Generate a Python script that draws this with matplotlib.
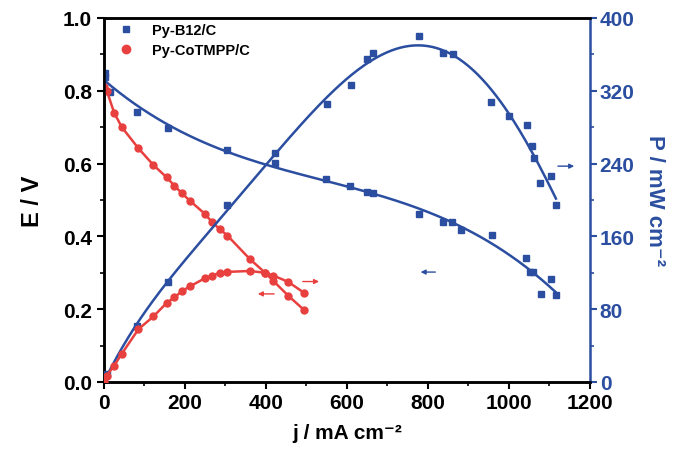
import numpy as np
import matplotlib
matplotlib.use("Agg")
import matplotlib.pyplot as plt
from matplotlib.ticker import MultipleLocator

plt.rcParams['font.family'] = ['Liberation Sans', 'DejaVu Sans']
plt.rcParams['font.weight'] = 'bold'

BLUE = '#2B4EA0'
RED = '#E8403E'

# Py-B12/C
b12_j_E = [2, 3, 15, 81, 159, 305, 422, 548, 607, 649, 665, 777, 836, 860, 881,
           957, 1042, 1052, 1060, 1078, 1104, 1115]
b12_E = [0.85, 0.838, 0.796, 0.741, 0.698, 0.638, 0.601, 0.558, 0.539, 0.521, 0.518,
         0.462, 0.439, 0.439, 0.418, 0.404, 0.34, 0.303, 0.303, 0.242, 0.283, 0.24]
b12_j_P = [0, 7, 81, 159, 305, 422, 550, 609, 650, 665, 779, 836, 861, 955, 1001,
           1044, 1056, 1062, 1077, 1103, 1116]
b12_P = [2, 9, 61, 110, 194, 252, 305, 326, 355, 361, 380, 362, 360, 308, 292,
         282, 259, 246, 219, 226, 194]

# Py-CoTMPP/C
co_j = [0, 7, 25, 44, 85, 122, 155, 174, 193, 212, 249, 267, 286, 305, 360, 398,
        418, 455, 494]
co_E = [0.81, 0.80, 0.74, 0.70, 0.642, 0.596, 0.562, 0.539, 0.518, 0.498, 0.462,
        0.439, 0.42, 0.402, 0.338, 0.30, 0.278, 0.237, 0.198]
co_P = [0, 7, 18, 31, 58, 72, 87, 93, 100, 105, 114, 117, 120, 121, 122, 120,
        117, 110, 98]

fig = plt.figure(figsize=(6.9, 4.6), dpi=100)
ax = fig.add_axes([0.1507, 0.1674, 0.7043, 0.7913])
ax2 = ax.twinx()

jj = np.linspace(0, 1116, 300)

# Blue fitted polarization curve
jb = np.array(b12_j_E, float)
Eb = np.array(b12_E, float)
coef = np.polyfit(jb, Eb, 3)
ax.plot(jj, np.polyval(coef, jj), color=BLUE, lw=1.8, zorder=3)
ax.plot(b12_j_E, b12_E, 's', color=BLUE, ms=5, zorder=4)

# Blue fitted power curve (polynomial through origin)
jp = np.array(b12_j_P, float) / 1000.0
Pp = np.array(b12_P, float)
A = np.vstack([jp ** k for k in range(1, 6)]).T
cpow, *_ = np.linalg.lstsq(A, Pp, rcond=None)
x = jj / 1000.0
Pfit = sum(c * x ** (k + 1) for k, c in enumerate(cpow))
ax2.plot(jj, Pfit, color=BLUE, lw=1.8, zorder=3)
ax2.plot(b12_j_P, b12_P, 's', color=BLUE, ms=5, zorder=4)

# Red
ax.plot(co_j, co_E, '-o', color=RED, lw=1.8, ms=5, zorder=5)
ax2.plot(co_j, co_P, '-o', color=RED, lw=1.8, ms=5, zorder=5)

# Legend
h1, = ax.plot([], [], 's', color=BLUE, ms=5)
h2, = ax.plot([], [], 'o', color=RED, ms=6)
ax.legend([h1, h2], ['Py-B12/C', 'Py-CoTMPP/C'], loc='upper left', frameon=False,
          prop={'size': 10.5, 'weight': 'bold'}, handletextpad=1.0,
          borderaxespad=0.3, labelspacing=0.45, handlelength=1.6,
          bbox_to_anchor=(0.0, 1.015))

# Arrows
def arrow(a, x0, x1, y, c):
    a.annotate('', xy=(x1, y), xytext=(x0, y),
               arrowprops=dict(arrowstyle='-|>', color=c, lw=1.0,
                               mutation_scale=7))

arrow(ax, 1114, 1168, 0.593, BLUE)
arrow(ax, 825, 775, 0.302, BLUE)
arrow(ax, 427, 373, 0.242, RED)
arrow(ax, 484, 538, 0.276, RED)

ax.set_xlim(0, 1200)
ax.set_ylim(0, 1.0)
ax2.set_ylim(0, 400)
ax.xaxis.set_major_locator(MultipleLocator(200))
ax.xaxis.set_minor_locator(MultipleLocator(100))
ax.yaxis.set_major_locator(MultipleLocator(0.2))
ax.yaxis.set_minor_locator(MultipleLocator(0.1))
ax2.yaxis.set_major_locator(MultipleLocator(80))
ax2.yaxis.set_minor_locator(MultipleLocator(40))
ax.yaxis.set_major_formatter(matplotlib.ticker.FormatStrFormatter('%.1f'))

for s in ['left', 'bottom', 'top']:
    ax.spines[s].set_linewidth(1.8)
    ax2.spines[s].set_linewidth(1.8)
ax2.spines['right'].set_color(BLUE)
ax2.spines['right'].set_linewidth(1.8)
ax.spines['right'].set_visible(False)

ax.tick_params(axis='both', which='major', direction='out', length=5, width=1.5,
               labelsize=15)
ax.tick_params(axis='both', which='minor', direction='out', length=3, width=1.2)
ax.tick_params(axis='x', pad=3)
ax2.tick_params(axis='y', which='major', direction='out', length=5, width=1.5,
                labelsize=15, colors=BLUE, pad=2)
ax2.tick_params(axis='y', which='minor', direction='out', length=3, width=1.2,
                colors=BLUE)
for t in ax.get_xticklabels() + ax.get_yticklabels() + ax2.get_yticklabels():
    t.set_fontweight('bold')

ax.set_xlabel('j / mA cm\u207b\u00b2', fontsize=15, fontweight='bold', labelpad=8)
ax.set_ylabel('E / V', fontsize=17, fontweight='bold', labelpad=14)
ax2.set_ylabel('P / mW cm\u207b\u00b2', fontsize=16, fontweight='bold',
               color=BLUE, rotation=270, labelpad=22)

fig.savefig('out.png', dpi=100)
